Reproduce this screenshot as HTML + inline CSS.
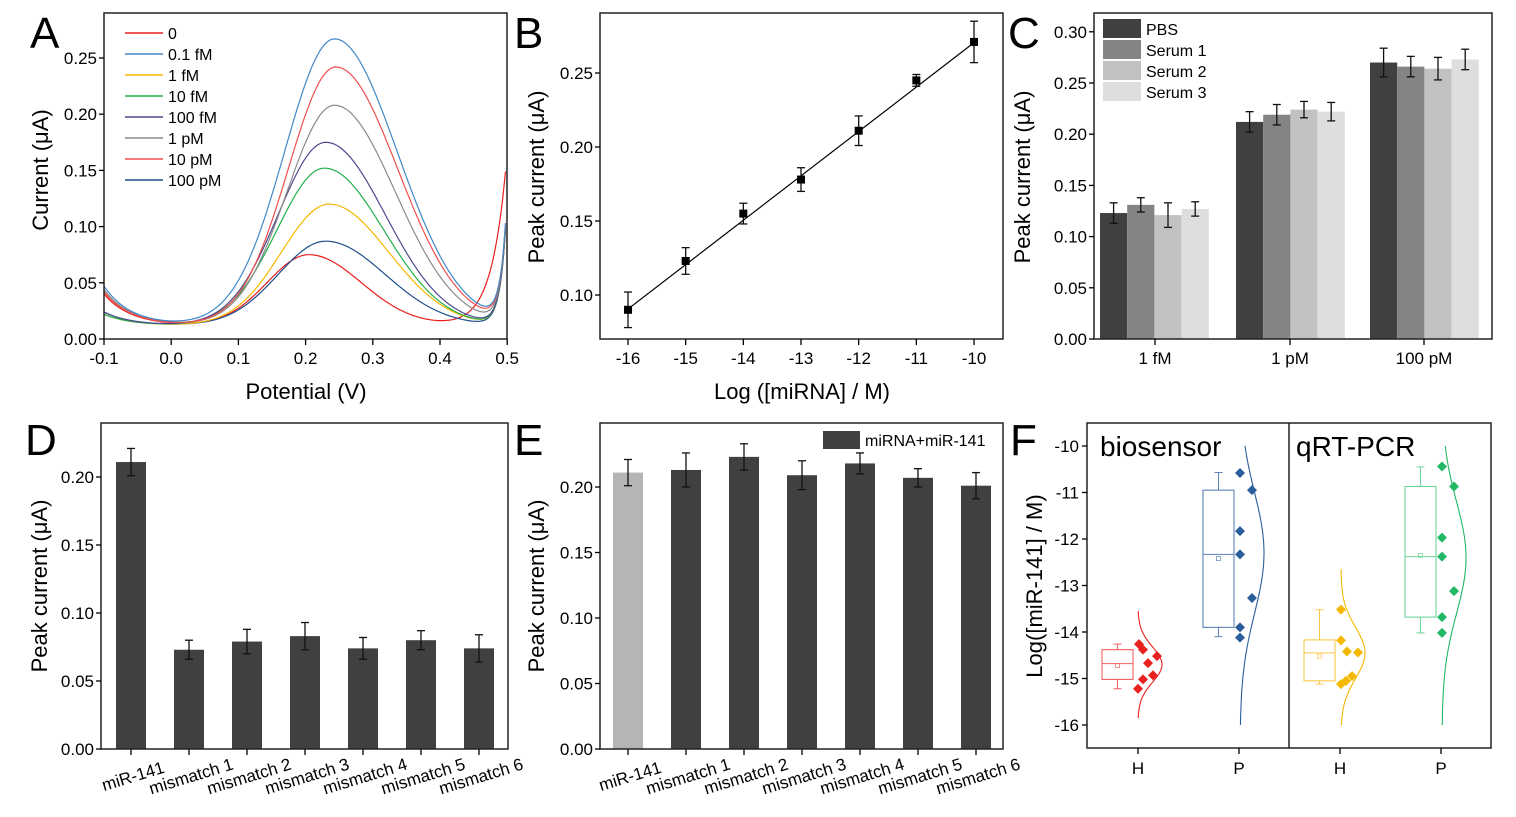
<!DOCTYPE html>
<html><head><meta charset="utf-8"><style>
html,body{margin:0;padding:0;background:#fff}
svg{display:block;font-family:"Liberation Sans",Arial,sans-serif}
</style></head><body>
<svg id="s" width="1516" height="817" viewBox="0 0 1516 817" xmlns="http://www.w3.org/2000/svg"></svg>
<script>
const S=document.getElementById('s');let h='';
function ln(x1,y1,x2,y2,c='#000',w=1.3){h+=`<line x1="${x1}" y1="${y1}" x2="${x2}" y2="${y2}" stroke="${c}" stroke-width="${w}"/>`}
function tx(x,y,t,sz=17,anc='middle',extra=''){h+=`<text x="${x}" y="${y}" font-size="${sz}" text-anchor="${anc}" ${extra}>${t}</text>`}
function rect(x,y,w,hh,f,st=''){h+=`<rect x="${x}" y="${y}" width="${w}" height="${hh}" fill="${f}" ${st}/>`}
function box(x0,y0,x1,y1){h+=`<rect x="${x0}" y="${y0}" width="${x1-x0}" height="${y1-y0}" fill="none" stroke="#222" stroke-width="1.5"/>`}
function yticks(x0,vals,ymap,fmt){vals.forEach(v=>{let y=ymap(v);ln(x0-5,y,x0,y);tx(x0-7,y+6,fmt(v),17,'end')})}
function err(x,y1,y2){ln(x,y1,x,y2,'#111',1.3);ln(x-4,y1,x+4,y1,'#111',1.3);ln(x-4,y2,x+4,y2,'#111',1.3)}
// ---------- Panel A
{const X=v=>104+(v+0.1)*672,Y=v=>339-v*1124;
const P=[['#e8201e',.063,.205,.088,.11,1],['#1f4e8c',.075,.23,.1,.125,0],['#f5b800',.108,.235,.1,.125,0],['#21b04b',.14,.228,.1,.125,0],['#4b4a8f',.163,.23,.1,.125,0],['#8a8a8a',.196,.243,.1,.128,0],['#f0504e',.23,.245,.1,.13,0],['#3f88c9',.255,.243,.105,.132,0]];
const lefts=[.028,.012,.01,.01,.012,.032,.03,.035];
P.forEach((p,i)=>{let d='';for(let x=-0.1;x<=0.4985;x+=0.0025){let w=x<p[2]?p[3]:p[4];let v=0.012+lefts[i]*Math.exp(-(x+0.1)/0.04)+p[1]*Math.exp(-Math.pow((x-p[2])/w,2));
let sp= p[5]?0.14*Math.exp((x-0.498)/0.022):0.09*Math.exp((x-0.498)/0.009);v+=Math.min(sp,p[5]?0.14:0.085);
d+=(d?'L':'M')+X(x).toFixed(1)+','+Y(v).toFixed(1)}h+=`<path d="${d}" fill="none" stroke="${p[0]}" stroke-width="1.2"/>`});
box(104,13,507,339);
yticks(104,[0,.05,.1,.15,.2,.25],Y,v=>v.toFixed(2));
[-0.1,0,0.1,0.2,0.3,0.4,0.5].forEach(v=>{ln(X(v),339,X(v),345);tx(X(v),364,v.toFixed(1))});
tx(306,399,'Potential (V)',22);tx(48,170,'Current (μA)',22,'middle','transform="rotate(-90 48 170)"');
const L=['0','0.1 fM','1 fM','10 fM','100 fM','1 pM','10 pM','100 pM'];const lc=['#e8201e','#3f88c9','#f5b800','#21b04b','#4b4a8f','#8a8a8a','#f0504e','#1f4e8c'];
L.forEach((t,i)=>{let y=33+i*21;ln(125,y,163,y,lc[i],1.5);tx(168,y+6,t,16,'start')});
tx(30,48,'A',44,'start');}
// ---------- Panel B
{const X=v=>628+(v+16)*57.67,Y=v=>73+(0.25-v)*1480;
box(600,13,1003,339);ln(X(-16),Y(.0905),X(-10),Y(.2705),'#000',1.2);
const d=[[-16,.090,.012],[-15,.123,.009],[-14,.155,.007],[-13,.178,.008],[-12,.211,.01],[-11,.245,.004],[-10,.271,.014]];
d.forEach(p=>{err(X(p[0]),Y(p[1]-p[2]),Y(p[1]+p[2]));rect(X(p[0])-4,Y(p[1])-4,8,8,'#000')});
yticks(600,[.1,.15,.2,.25],Y,v=>v.toFixed(2));
for(let v=-16;v<=-10;v++){ln(X(v),339,X(v),345);tx(X(v),364,v)}
tx(802,399,'Log ([miRNA] / M)',22);tx(544,177,'Peak current (μA)',22,'middle','transform="rotate(-90 544 177)"');
tx(514,48,'B',44,'start');}
// ---------- Panel C
{const Y=v=>339-v*1024;const cols=['#404040','#848484','#c2c2c2','#dedede'];
const g=[[1100,[.123,.131,.121,.127],[.01,.007,.012,.007]],[1236,[.212,.219,.224,.222],[.01,.01,.008,.009]],[1370,[.270,.266,.264,.273],[.014,.01,.011,.01]]];
g.forEach(G=>G[1].forEach((v,i)=>{let x=G[0]+i*27.2;rect(x,Y(v),27.2,Y(0)-Y(v),cols[i]);err(x+13.6,Y(v-G[2][i]),Y(v+G[2][i]))}));
box(1094,13,1492,339);
yticks(1094,[0,.05,.1,.15,.2,.25,.3],Y,v=>v.toFixed(2));
[[1155,'1 fM'],[1290,'1 pM'],[1424,'100 pM']].forEach(p=>{ln(p[0],339,p[0],345);tx(p[0],364,p[1])});
tx(1030,177,'Peak current (μA)',22,'middle','transform="rotate(-90 1030 177)"');
['PBS','Serum 1','Serum 2','Serum 3'].forEach((t,i)=>{rect(1103,19+i*21,38,19,cols[i]);tx(1146,35+i*21,t,16,'start')});
tx(1008,48,'C',44,'start');}
// ---------- Panel D
{const Y=v=>749-v*1360;const vals=[.211,.073,.079,.083,.074,.080,.074],e=[.01,.007,.009,.01,.008,.007,.01];
const labs=['miR-141','mismatch 1','mismatch 2','mismatch 3','mismatch 4','mismatch 5','mismatch 6'];
vals.forEach((v,i)=>{let c=131+i*58;rect(c-15,Y(v),30,Y(0)-Y(v),'#404040');err(c,Y(v-e[i]),Y(v+e[i]));ln(c,749,c,755);
tx(c+2,782,labs[i],17,'middle',`transform="rotate(-17 ${c+2} 776)"`)});
box(101,423,508,749);yticks(101,[0,.05,.1,.15,.2],Y,v=>v.toFixed(2));
tx(47,586,'Peak current (μA)',22,'middle','transform="rotate(-90 47 586)"');tx(25,455,'D',44,'start');}
// ---------- Panel E
{const Y=v=>749-v*1310;const vals=[.211,.213,.223,.209,.218,.207,.201],e=[.01,.013,.01,.011,.008,.007,.01];
const labs=['miR-141','mismatch 1','mismatch 2','mismatch 3','mismatch 4','mismatch 5','mismatch 6'];
vals.forEach((v,i)=>{let c=628+i*58;rect(c-15,Y(v),30,Y(0)-Y(v),i?'#404040':'#b5b5b5');err(c,Y(v-e[i]),Y(v+e[i]));ln(c,749,c,755);
tx(c+2,782,labs[i],17,'middle',`transform="rotate(-17 ${c+2} 776)"`)});
box(600,423,1003,749);yticks(600,[0,.05,.1,.15,.2],Y,v=>v.toFixed(2));
rect(823,431,37,18,'#404040');tx(865,446,'miRNA+miR-141',16,'start');
tx(544,586,'Peak current (μA)',22,'middle','transform="rotate(-90 544 586)"');tx(514,455,'E',44,'start');}
// ---------- Panel F
{const Y=v=>446+(-10-v)*46.5;
const sets=[
['#e8201e','#f06060',1138,1102,1133,[-15.22,-15.02,-14.68,-14.38,-14.26],-14.72,[[1139,-14.26],[1143,-14.38],[1148,-14.67],[1157,-14.52],[1153,-14.93],[1143,-15.02],[1138,-15.22]],-14.7,.38,-13.55,-15.85],
['#2a5d9c','#5b82b8',1240,1203,1234,[-14.1,-13.9,-12.33,-10.95,-10.57],-12.42,[[1240,-10.58],[1252,-10.95],[1240,-11.83],[1240,-12.33],[1252,-13.27],[1240,-13.9],[1240,-14.12]],-12.3,1.3,-10,-16],
['#f5b800','#f7c94a',1341,1304,1335,[-15.12,-15.05,-14.45,-14.17,-13.52],-14.52,[[1341,-13.52],[1341,-14.18],[1347,-14.42],[1358,-14.44],[1352,-14.95],[1346,-15.05],[1341,-15.12]],-14.45,.55,-12.65,-16],
['#21b866','#6fd49a',1442,1405,1436,[-14.02,-13.68,-12.38,-10.87,-10.45],-12.35,[[1442,-10.44],[1454,-10.87],[1442,-11.97],[1442,-12.38],[1454,-13.12],[1442,-13.68],[1442,-14.02]],-12.4,1.2,-10,-16]];
sets.forEach(s=>{const [c,bc,bx,x0,x1,q,m,pts,mu,sg,top,bot]=s;const xm=(x0+x1)/2;
ln(xm,Y(q[0]),xm,Y(q[1]),bc,1);ln(xm,Y(q[3]),xm,Y(q[4]),bc,1);ln(xm-4,Y(q[0]),xm+4,Y(q[0]),bc,1);ln(xm-4,Y(q[4]),xm+4,Y(q[4]),bc,1);
h+=`<rect x="${x0}" y="${Y(q[3])}" width="${x1-x0}" height="${Y(q[1])-Y(q[3])}" fill="none" stroke="${bc}" stroke-width="1.1"/>`;
ln(x0,Y(q[2]),x1,Y(q[2]),bc,1);h+=`<rect x="${xm-2}" y="${Y(m)-2}" width="4" height="4" fill="none" stroke="${bc}" stroke-width=".7"/>`;
let d='';for(let v=top;v>=bot-0.001;v-=0.05){let x=bx+24*Math.exp(-Math.pow((v-mu)/sg,2)/2);d+=(d?'L':'M')+x.toFixed(1)+','+Y(v).toFixed(1)}
h+=`<path d="${d}" fill="none" stroke="${c}" stroke-width="1.1"/>`;
pts.forEach(p=>{let y=Y(p[1]);h+=`<path d="M${p[0]},${y-5}L${p[0]+5},${y}L${p[0]},${y+5}L${p[0]-5},${y}Z" fill="${c}"/>`})});
box(1087,423,1491,748);ln(1289,423,1289,748,'#222',1.5);
for(let v=-10;v>=-16;v--){ln(1082,Y(v),1087,Y(v));tx(1079,Y(v)+6,v,17,'end')}
[[1138,'H'],[1239,'P'],[1340,'H'],[1441,'P']].forEach(p=>{ln(p[0],748,p[0],754);tx(p[0],774,p[1],17)});
tx(1100,456,'biosensor',28,'start');tx(1296,456,'qRT-PCR',28,'start');
tx(1042,586,'Log([miR-141] / M)',22,'middle','transform="rotate(-90 1042 586)"');tx(1010,455,'F',44,'start');}
S.innerHTML=h;
</script>
</body></html>
